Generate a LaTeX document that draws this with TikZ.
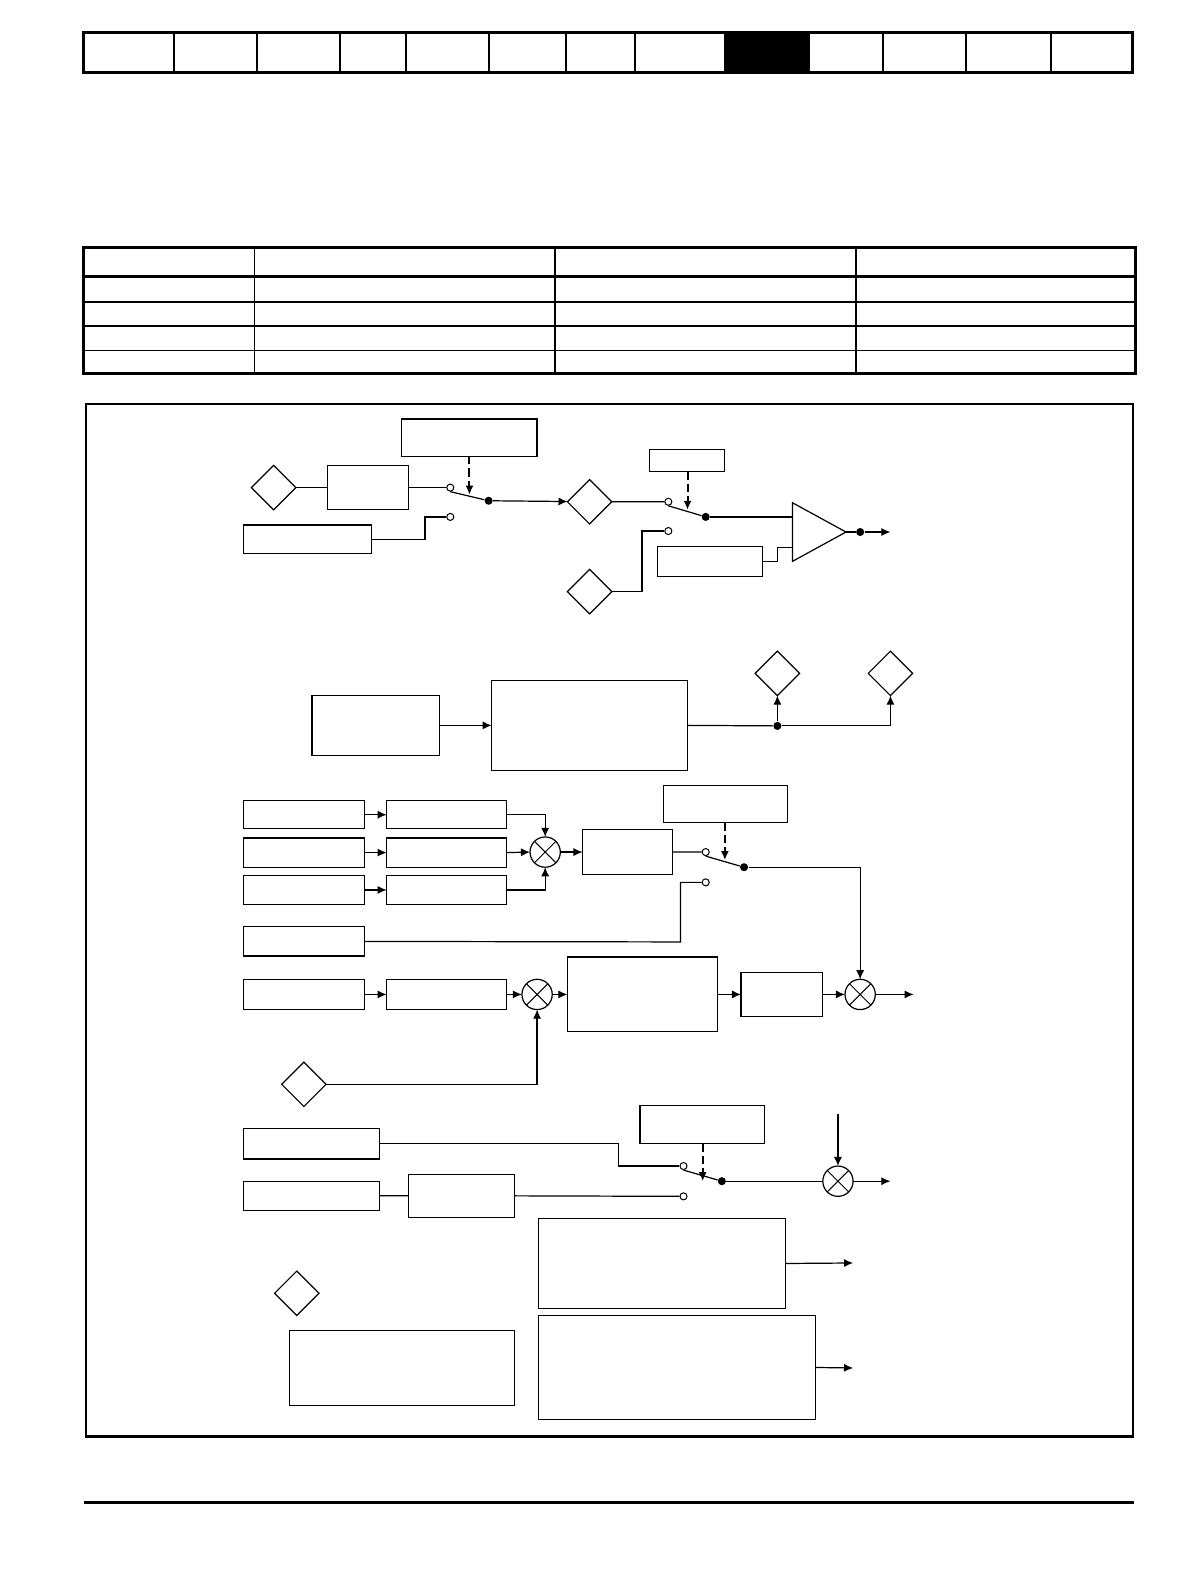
\documentclass[tikz,border=0pt]{standalone}
\usetikzlibrary{arrows.meta,shapes.geometric}
\begin{document}
\begin{tikzpicture}[x=0.5pt,y=-0.5pt,
  ln/.style={line width=0.6pt},
  bx/.style={draw,line width=0.6pt,inner sep=0,outer sep=0,rectangle},
  dm/.style={draw,line width=0.6pt,diamond,inner sep=0,outer sep=0,minimum width=22pt,minimum height=22pt},
  mx/.style={draw,line width=0.6pt,circle,inner sep=0,outer sep=0,minimum size=15pt},
  ar/.style={ln,-{Latex[length=4.5pt,width=4pt]}},
  da/.style={line width=1pt,dashed,dash pattern=on 4pt off 2pt,-{Latex[length=4.5pt,width=4pt]}},
  oc/.style={draw,line width=0.5pt,circle,fill=white,inner sep=0,minimum size=3.5pt},
  fc/.style={fill,circle,inner sep=0,minimum size=4pt},
  thk/.style={line width=1.5pt}]
\newcommand\bx[5]{\node[bx,minimum width={(#4-#2)*0.5pt},minimum height={(#5-#3)*0.5pt}] (#1) at ({(#2+#4)/2},{(#3+#5)/2}) {};}
\newcommand\mxx[3]{\node[mx] (#1) at (#2,#3) {}; \draw[line width=0.5pt] (#1.north west)--(#1.south east) (#1.north east)--(#1.south west);}
% header
\fill (718,32) rectangle (801,72);
\draw[thk] (83,32) rectangle (1122,72);
\foreach \x in {172,255,337,402,484,561,629,718,801,875,957,1041} \draw[line width=1pt] (\x,32)--(\x,72);
% table
\draw[thk] (83,245) rectangle (1125,370);
\draw[thk] (83,274)--(1125,274);
\foreach \y in {299,323,347} \draw[line width=0.8pt] (83,\y)--(1125,\y);
\foreach \x in {252,550,848} \draw[line width=0.8pt] (\x,245)--(\x,370);
% frame
\draw[line width=1.2pt] (85,400) rectangle (1122,1423);
\draw[thk] (83,1488)--(1123,1488);
% section 1
\node[dm] (d1) at (271,483) {};
\bx{b1}{324}{461}{405}{505}
\bx{s1}{398}{415}{532}{452}
\bx{b2}{241}{520}{368}{548}
\node[oc] (c1a) at (446,483) {};
\node[oc] (c1b) at (446,512) {};
\node[fc] (p1) at (484,496) {};
\draw[ln] (d1)--(b1.west) (b1.east)--(c1a);
\draw[ln] (c1a.south)--(p1);
\draw[da] (465,452)--(465,490);
\draw[ln] (b2.east)--(421,534)--(421,512)--(c1b);
\node[dm] (d2) at (584,497) {};
\draw[ar] (p1)--(d2);
\bx{s2}{643}{445}{718}{467}
\node[oc] (c2a) at (662,497) {};
\node[oc] (c2b) at (662,526) {};
\node[fc] (p2) at (699,512) {};
\draw[ln] (d2)--(c2a) (c2a.south)--(p2);
\draw[da] (681,467)--(681,505);
\coordinate (t1) at (785,498); \coordinate (t2) at (785,556); \coordinate (t3) at (838,527);
\draw[ln] (t1)--(t3)--(t2)--cycle;
\draw[ln] (p2)--(785,512);
\node[dm] (d3) at (584,586) {};
\draw[ln] (d3)--(636,586)--(636,526)--(c2b);
\bx{b3}{651}{541}{755}{571}
\draw[ln] (b3.east)--(770,556)--(770,542)--(785,542);
\node[fc] (p3) at (852,527) {};
\coordinate (o1) at (882,527);
\draw[ln] (t3)--(p3); \draw[ar] (p3)--(o1);
% section 2
\bx{b4}{309}{689}{435}{748}
\bx{b5}{487}{674}{681}{763}
\draw[ar] (b4.east)--(b5.west);
\node[dm] (d4) at (770,667) {};
\node[dm] (d5) at (882,667) {};
\node[fc] (p4) at (770,719) {};
\draw[ln] (b5.east)--(p4);
\draw[ar] (p4)--(d4.south);
\draw[ar] (p4)--(882,719)--(d5.south);
% section 3
\bx{a1}{241}{793}{361}{821}
\bx{a2}{241}{830}{361}{859}
\bx{a3}{241}{867}{361}{896}
\bx{e1}{383}{793}{502}{821}
\bx{e2}{383}{830}{502}{859}
\bx{e3}{383}{867}{502}{896}
\draw[ar] (a1)--(e1); \draw[ar] (a2)--(e2); \draw[ar] (a3)--(e3);
\mxx{m1}{540}{844}
\draw[ar] (e1.east)-|(m1.north);
\draw[ar] (e2.east)--(m1.west);
\draw[ar] (e3.east)-|(m1.south);
\bx{b6}{577}{822}{666}{866}
\draw[ar] (m1)--(b6);
\bx{s3}{657}{778}{780}{815}
\node[oc] (c3a) at (699,844) {};
\node[oc] (c3b) at (699,874) {};
\node[fc] (p5) at (737,859) {};
\draw[ln] (b6.east)--(c3a) (c3a.south)--(p5);
\draw[da] (718,815)--(718,852);
\bx{a4}{241}{918}{361}{947}
\draw[ln] (a4.east)--(674,933)--(674,874)--(c3b);
\bx{a5}{241}{970}{361}{1000}
\bx{e5}{383}{970}{502}{1000}
\mxx{m2}{532}{985}
\bx{b7}{562}{948}{711}{1022}
\bx{b8}{734}{963}{815}{1007}
\mxx{m3}{852}{985}
\coordinate (o2) at (905,985);
\draw[ar] (a5)--(e5); \draw[ar] (e5)--(m2); \draw[ar] (m2)--(b7.west);
\draw[ar] (b7.east)--(b8.west); \draw[ar] (b8)--(m3); \draw[ar] (m3)--(o2);
\draw[ar] (p5)-|(m3.north);
\node[dm] (d6) at (301,1074) {};
\draw[ar] (d6.east)-|(m2.south);
% section 4
\bx{a6}{241}{1118}{376}{1148}
\bx{a7}{241}{1170}{376}{1199}
\bx{b9}{405}{1163}{510}{1206}
\bx{s4}{634}{1095}{757}{1133}
\node[oc] (c4a) at (677,1155) {};
\node[oc] (c4b) at (677,1185) {};
\node[fc] (p6) at (715,1170) {};
\draw[ln] (a6.east)--(613,1133)--(613,1155)--(c4a);
\draw[ln] (a7)--(b9) (b9.east)--(c4b);
\draw[ln] (c4a.south)--(p6);
\draw[da] (696,1133)--(696,1170);
\mxx{m4}{830}{1170}
\coordinate (i4) at (830,1103); \coordinate (o4) at (882,1170);
\draw[ln] (p6)--(m4); \draw[ar] (i4)--(m4.north); \draw[ar] (m4)--(o4);
\bx{b10}{533}{1207}{778}{1296}
\bx{b11}{533}{1303}{808}{1406}
\coordinate (o5) at (845,1251); \coordinate (o6) at (845,1355);
\draw[ar] (b10.east)--(o5); \draw[ar] (b11.east)--(o6);
\node[dm] (d7) at (294,1281) {};
\bx{b12}{287}{1318}{510}{1392}
\pgfresetboundingbox
\path[use as bounding box] (0,0) rectangle (1179,1567);
\end{tikzpicture}
\end{document}
